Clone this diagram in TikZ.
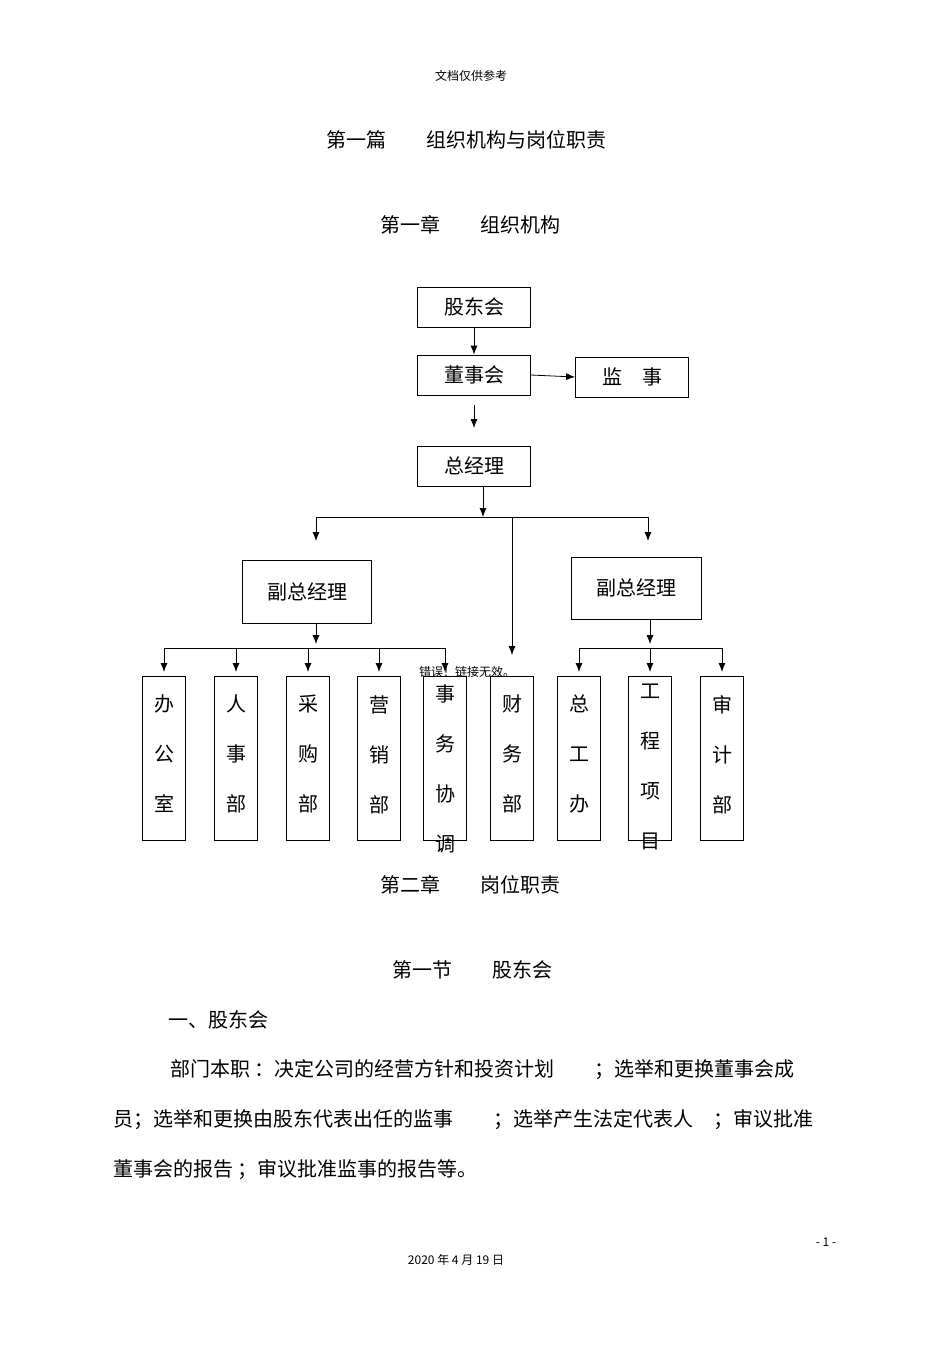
\documentclass[tikz,border=0pt]{standalone}
\usepackage{fontspec}
\setmainfont{Noto Sans CJK SC}
\usetikzlibrary{arrows.meta}
\tikzset{
  box/.style={draw, thick, minimum width=113pt, minimum height=40pt, inner sep=0pt,
    font=\fontsize{20}{24}\selectfont},
  vbox/.style={draw, thick, minimum width=43pt, minimum height=164pt, inner sep=0pt, anchor=north},
  vtext/.style={align=center, anchor=north, inner sep=0pt,
    font=\fontsize{20}{50}\selectfont},
  txt/.style={inner sep=0pt, font=\fontsize{20}{24}\selectfont},
  arr/.style={thick, -{Latex[length=9pt,width=7pt]}}
}
\begin{document}
\begin{tikzpicture}[x=1pt, y=-1pt]
  \fill[white] (0,0) rectangle (950,1345);
  \useasboundingbox (0,0) rectangle (950,1345);

  % header and titles
  \node[inner sep=0pt, font=\fontsize{12}{14}\selectfont] (head) at (471,76) {文档仅供参考};
  \node[txt] (pian) at (466,140) {第一篇\quad\quad 组织机构与岗位职责};
  \node[txt] (zhang1) at (470,225) {第一章\quad\quad 组织机构};

  % top of the chart
  \node[box] (gdh) at (474,307) {股东会};
  \node[box] (dsh) at (474,375) {董事会};
  \node[box] (js) at (632,377) {监\quad 事};
  \node[box] (zjl) at (474,466) {总经理};
  \node[box, minimum width=129pt, minimum height=63pt] (fz1) at (307,592) {副总经理};
  \node[box, minimum width=130pt, minimum height=62pt] (fz2) at (636,588) {副总经理};
  \draw[arr] (gdh.south) -- (dsh.north);
  \draw[arr] (dsh.east) -- (js.west);
  \coordinate (a1) at (474,405);
  \coordinate (a2) at (474,428);
  \draw[arr] (a1) -- (a2);

  % departments
  \foreach \n/\x/\t in {d1/164/办\\公\\室, d2/236/人\\事\\部, d3/308/采\\购\\部,
      d4/379/营\\销\\部, d6/512/财\\务\\部, d7/579/总\\工\\办, d9/722/审\\计\\部} {
    \node[vbox] (\n) at (\x,676) {};
    \node[vtext] at (\x,695) {\t};
  }
  \node[vbox] (d5) at (445,676) {};
  \node[vtext] at (445,684) {事\\务\\协\\调};
  \node[vbox] (d8) at (650,676) {};
  \node[vtext] at (650,684) {工\\程\\项\\目};
  \node[inner sep=0pt, font=\fontsize{12}{14}\selectfont] (err) at (467,672) {错误！链接无效。};

  % connectors from the general manager
  \coordinate (b0) at (483,517);
  \draw[arr] (483,487) -- (b0);
  \draw[thick] (316,517) -- (648,517);
  \draw[arr] (316,517) -- (316,541);
  \draw[arr] (648,517) -- (648,541);
  \draw[arr] (512,517) -- (512,655);

  % left deputy
  \draw[arr] (fz1.south -| 316,0) -- (316,644);
  \draw[thick] (164,648) -- (445,648);
  \foreach \n in {d1,d2,d3,d4,d5}
    \draw[arr] (\n.north |- 0,648) -- ++(0,24);

  % right deputy
  \draw[arr] (fz2.south -| 650,0) -- (650,644);
  \draw[thick] (579,648) -- (722,648);
  \foreach \n in {d7,d8,d9}
    \draw[arr] (\n.north |- 0,648) -- ++(0,24);

  % text below
  \node[txt] (zhang2) at (470,885) {第二章\quad\quad 岗位职责};
  \node[txt] (jie1) at (472,970) {第一节\quad\quad 股东会};
  \node[txt, anchor=west] (yi) at (168,1020) {一、股东会};
  \node[txt, anchor=west] (p1) at (170,1070) {部门本职 ：决定公司的经营方针和投资计划\quad\quad ；选举和更换董事会成};
  \node[txt, anchor=west] (p2) at (113,1120) {员；选举和更换由股东代表出任的监事\quad\quad ；选举产生法定代表人\quad ；审议批准};
  \node[txt, anchor=west] (p3) at (113,1170) {董事会的报告 ；审议批准监事的报告等。};
  \node[inner sep=0pt, font=\fontsize{12}{14}\selectfont] (pg) at (826,1242) {- 1 -};
  \node[inner sep=0pt, font=\fontsize{12}{14}\selectfont] (date) at (456,1260) {2020 年 4 月 19 日};
\end{tikzpicture}
\end{document}
